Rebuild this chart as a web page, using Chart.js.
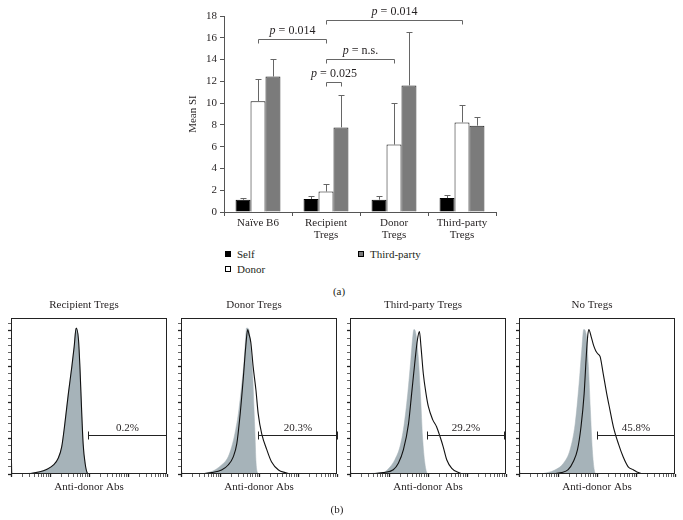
<!DOCTYPE html>
<html>
<head>
<meta charset="utf-8">
<script src="https://cdn.jsdelivr.net/npm/chart.js@4.4.1/dist/chart.umd.min.js"></script>
<style>
  body { margin: 0; background: #fff; }
  #fig { position: relative; width: 683px; height: 520px; font-family: "Liberation Serif", serif; color: #231f20; }
  canvas { position: absolute; }
  .txt { position: absolute; font-size: 11px; line-height: 12px; white-space: nowrap; }
  .mid { transform: translateX(-50%); }
  .sw { position: absolute; width: 4px; height: 4px; border: 1px solid #000; }
</style>
</head>
<body>
<div id="fig">
  <canvas id="bars" width="328" height="246" style="left:182px;top:0"></canvas>
  <div id="legend"></div>
  <div class="txt mid" style="left:339px;top:285px">(a)</div>
  <canvas id="h0" width="176" height="204" style="left:1px;top:290px"></canvas>
  <canvas id="h1" width="176" height="204" style="left:171px;top:290px"></canvas>
  <canvas id="h2" width="176" height="204" style="left:340px;top:290px"></canvas>
  <canvas id="h3" width="176" height="204" style="left:509px;top:290px"></canvas>
  <div class="txt mid" style="left:337px;top:503px">(b)</div>
</div>
<script>
// (a) mean stimulation index
const groups = [['Naïve B6'], ['Recipient', 'Tregs'], ['Donor', 'Tregs'], ['Third-party', 'Tregs']];
const seriesNames = ['Self', 'Donor', 'Third-party'];
const selfSI = [1.12, 1.19, 1.13, 1.28];
const donorSI = [10.18, 1.88, 6.19, 8.23];
const thirdSI = [12.44, 7.77, 11.62, 7.93];
const selfErr = [0.15, 0.24, 0.3, 0.24];
const donorErr = [2.02, 0.68, 3.84, 1.56];
const thirdErr = [1.61, 2.99, 4.9, 0.82];

// significance brackets: [series, group] at each end
const pText = ['0.014', '0.014', 'n.s.', '0.025'];
const pFrom = [[1, 0], [1, 1], [1, 1], [1, 1]];
const pTo = [[1, 1], [1, 3], [1, 2], [2, 1]];
const pLevel = [15.9, 17.6, 14.05, 11.9];

// (b) histograms, x in log decades, y in % of max
const panelTitles = ['Recipient Tregs', 'Donor Tregs', 'Third-party Tregs', 'No Tregs'];
const gatePct = ['0.2%', '20.3%', '29.2%', '45.8%'];
const gateFrom = [1.98, 1.98, 1.98, 1.99];
const gateTo = [3.97, 3.99, 3.96, 3.97];
const gateLevel = [27, 27, 27, 27];

const ctrl1X = [0.3, 0.74, 0.91, 1.09, 1.21, 1.30, 1.38, 1.47, 1.56, 1.62, 1.67, 1.73, 1.77, 1.81, 1.85, 1.90, 1.96, 2.0];
const ctrl1Y = [0, 1.6, 3.2, 6.3, 11, 19, 35, 56, 75, 89, 102, 94, 73, 45, 21, 7.5, 0.5, 0];
const ctrl2X = [0.4, 0.62, 0.87, 1.04, 1.13, 1.21, 1.30, 1.38, 1.47, 1.56, 1.62, 1.66, 1.68, 1.74, 1.79, 1.84, 1.87, 1.90, 1.92, 1.96, 2.0];
const ctrl2Y = [0, 0.5, 2.8, 6.3, 8.6, 12, 19, 28, 42, 63, 80, 96, 102, 101, 87, 68, 47, 26, 10, 1, 0];
const ctrl3X = [0.4, 0.60, 0.85, 1.03, 1.15, 1.28, 1.38, 1.48, 1.56, 1.61, 1.64, 1.69, 1.75, 1.81, 1.86, 1.92, 1.98, 2.02];
const ctrl3Y = [0, 0.5, 1, 5, 10, 19, 33, 56, 80, 96, 101, 98, 82, 54, 26, 7.5, 0.5, 0];
const ctrl4X = [0.58, 0.92, 1.14, 1.31, 1.44, 1.54, 1.61, 1.66, 1.72, 1.78, 1.83, 1.88, 1.93, 1.97];
const ctrl4Y = [0, 2.8, 7.5, 17, 35, 63, 87, 101, 98, 75, 45, 17, 2.8, 0];

const recipX = [0, 0.02, 0.3, 0.74, 0.91, 1.09, 1.21, 1.30, 1.38, 1.47, 1.56, 1.62, 1.67, 1.73, 1.77, 1.81, 1.85, 1.90, 1.96, 2.0, 4];
const recipY = [35, 0, 0, 1.6, 3.2, 6.3, 11, 19, 35, 56, 75, 89, 102, 94, 73, 45, 21, 7.5, 0.5, 0, 0];
const donorX = [0, 0.02, 0.44, 0.79, 1.04, 1.21, 1.34, 1.43, 1.51, 1.60, 1.66, 1.71, 1.74, 1.79, 1.85, 1.92, 1.98, 2.07, 2.20, 2.32, 2.50, 2.67, 2.84, 4];
const donorY = [10, 0, 0, 1, 2.8, 6.3, 12, 21, 40, 68, 89, 101, 98, 92, 75, 59, 42, 28, 17, 8.6, 2.8, 1, 0, 0];
const thirdX = [0, 0.02, 0.43, 0.85, 1.11, 1.24, 1.37, 1.50, 1.58, 1.67, 1.73, 1.78, 1.82, 1.88, 1.95, 2.01, 2.12, 2.22, 2.31, 2.39, 2.48, 2.61, 2.78, 2.91, 4];
const thirdY = [10, 0, 0, 1, 3, 7.5, 17, 35, 56, 80, 94, 99.5, 89, 70, 56, 47, 38, 33, 26, 19, 10, 4, 1, 0, 0];
const noTregX = [0, 0.02, 0.75, 1.09, 1.26, 1.39, 1.50, 1.59, 1.67, 1.72, 1.76, 1.79, 1.85, 1.91, 1.97, 2.02, 2.08, 2.16, 2.25, 2.33, 2.42, 2.55, 2.67, 2.80, 2.93, 3.06, 3.19, 4];
const noTregY = [12, 0, 0, 1, 3, 8.6, 17, 33, 56, 80, 96, 101, 96, 90, 86, 84, 82, 70, 56, 45, 33, 21, 12, 5, 3, 1, 0, 0];

const ctrlX = [ctrl1X, ctrl2X, ctrl3X, ctrl4X];
const ctrlY = [ctrl1Y, ctrl2Y, ctrl3Y, ctrl4Y];
const lineX = [recipX, donorX, thirdX, noTregX];
const lineY = [recipY, donorY, thirdY, noTregY];

const serif = '"Liberation Serif", "Times New Roman", serif';
const ink = '#231f20';
const axisGrey = '#555';
const barColors = ['#000000', '#ffffff', '#7b7b7b'];
const fillGrey = '#a6b3b9';

// legend for (a)
const legendSpots = [[225, 251], [225, 266], [358, 251]];
const legend = document.getElementById('legend');
seriesNames.forEach((name, i) => {
  const [lx, ly] = legendSpots[i];
  const sw = document.createElement('div');
  sw.className = 'sw';
  sw.style.left = lx + 'px';
  sw.style.top = ly + 'px';
  sw.style.background = barColors[i];
  legend.appendChild(sw);
  const t = document.createElement('div');
  t.className = 'txt';
  t.style.left = (lx + 12) + 'px';
  t.style.top = (ly - 3) + 'px';
  t.textContent = name;
  legend.appendChild(t);
});

const errorBars = {
  id: 'errorBars',
  afterDatasetsDraw(chart) {
    const { ctx, scales: { y } } = chart;
    ctx.save();
    ctx.strokeStyle = '#666';
    ctx.lineWidth = 1;
    chart.data.datasets.forEach((ds, i) => {
      chart.getDatasetMeta(i).data.forEach((bar, j) => {
        const top = Math.round(y.getPixelForValue(ds.data[j] + ds.errors[j])) + 0.5;
        const x = Math.round(bar.x) + 0.5;
        ctx.beginPath();
        ctx.moveTo(x, bar.y);
        ctx.lineTo(x, top);
        ctx.moveTo(x - 3, top);
        ctx.lineTo(x + 3, top);
        ctx.stroke();
      });
    });
    ctx.restore();
  }
};

const brackets = {
  id: 'brackets',
  afterDraw(chart) {
    const { ctx, scales: { y } } = chart;
    ctx.save();
    pLevel.forEach((lvl, k) => {
      const a = Math.round(chart.getDatasetMeta(pFrom[k][0]).data[pFrom[k][1]].x) + 0.5;
      const b = Math.round(chart.getDatasetMeta(pTo[k][0]).data[pTo[k][1]].x) + 0.5;
      const yy = Math.round(y.getPixelForValue(lvl)) + 0.5;
      ctx.strokeStyle = '#666';
      ctx.lineWidth = 1;
      ctx.beginPath();
      ctx.moveTo(a, yy + 4);
      ctx.lineTo(a, yy);
      ctx.lineTo(b, yy);
      ctx.lineTo(b, yy + 4);
      ctx.stroke();

      const rest = ' = ' + pText[k];
      ctx.font = 'italic 12px ' + serif;
      const wp = ctx.measureText('p').width;
      ctx.font = '12px ' + serif;
      const wr = ctx.measureText(rest).width;
      let x0 = (a + b) / 2 - (wp + wr) / 2;
      ctx.fillStyle = ink;
      ctx.textBaseline = 'alphabetic';
      ctx.textAlign = 'left';
      ctx.font = 'italic 12px ' + serif;
      ctx.fillText('p', x0, yy - 6);
      ctx.font = '12px ' + serif;
      ctx.fillText(rest, x0 + wp, yy - 6);
    });
    ctx.restore();
  }
};

new Chart(document.getElementById('bars'), {
  type: 'bar',
  data: {
    labels: groups,
    datasets: [
      { label: seriesNames[0], data: selfSI, errors: selfErr, backgroundColor: barColors[0], borderColor: '#000', borderWidth: 1 },
      { label: seriesNames[1], data: donorSI, errors: donorErr, backgroundColor: barColors[1], borderColor: '#111', borderWidth: 1 },
      { label: seriesNames[2], data: thirdSI, errors: thirdErr, backgroundColor: barColors[2], borderColor: '#222', borderWidth: 1 }
    ]
  },
  options: {
    responsive: false,
    animation: false,
    datasets: { bar: { categoryPercentage: 0.66, barPercentage: 1 } },
    layout: { padding: { top: 16, right: 14, left: 0, bottom: 0 } },
    plugins: { legend: { display: false }, tooltip: { enabled: false } },
    scales: {
      x: {
        afterFit: s => { s.height = 34; },
        grid: { drawOnChartArea: false, tickLength: 4, tickColor: axisGrey, offset: true },
        border: { color: axisGrey },
        ticks: { color: ink, font: { family: serif, size: 11, lineHeight: 1.1 }, padding: 1, maxRotation: 0, autoSkip: false }
      },
      y: {
        min: 0,
        max: 18,
        afterFit: s => { s.width = 42; },
        ticks: { stepSize: 2, color: ink, font: { family: serif, size: 11 }, padding: 3 },
        grid: { drawOnChartArea: false, tickLength: 4, tickColor: axisGrey },
        border: { color: axisGrey },
        title: { display: true, text: 'Mean SI', color: ink, font: { family: serif, size: 11 }, padding: { top: 5, bottom: 0 } }
      }
    }
  },
  plugins: [errorBars, brackets]
});

// log-decade tick marks for the flow axes
const decadeTicks = [];
for (let d = 0; d < 4; d++) {
  for (let m = 1; m < 10; m++) decadeTicks.push({ value: d + Math.log10(m), major: m === 1 });
}
decadeTicks.push({ value: 4, major: true });
const countTicks = [];
for (let v = 0; v <= 105; v += 5) countTicks.push({ value: v, major: v % 25 === 0 });

const frame = {
  id: 'frame',
  afterDatasetsDraw(chart) {
    const { ctx, chartArea: a } = chart;
    ctx.save();
    ctx.strokeStyle = '#222';
    ctx.lineWidth = 1;
    ctx.strokeRect(Math.round(a.left) + 0.5, Math.round(a.top) + 0.5, Math.round(a.width) - 1, Math.round(a.height) - 1);
    ctx.restore();
  }
};

function gatePlugin(k) {
  return {
    id: 'gate' + k,
    afterDatasetsDraw(chart) {
      const { ctx, scales: { x, y } } = chart;
      const x1 = Math.round(x.getPixelForValue(gateFrom[k])) + 0.5;
      const x2 = Math.round(x.getPixelForValue(gateTo[k])) + 0.5;
      const yy = Math.round(y.getPixelForValue(gateLevel[k])) + 0.5;
      ctx.save();
      ctx.strokeStyle = '#222';
      ctx.lineWidth = 1;
      ctx.beginPath();
      ctx.moveTo(x1, yy - 4); ctx.lineTo(x1, yy + 4);
      ctx.moveTo(x1, yy); ctx.lineTo(x2, yy);
      ctx.moveTo(x2, yy - 4); ctx.lineTo(x2, yy + 4);
      ctx.stroke();
      ctx.fillStyle = ink;
      ctx.font = '11px ' + serif;
      ctx.textAlign = 'center';
      ctx.textBaseline = 'alphabetic';
      ctx.fillText(gatePct[k], (x1 + x2) / 2, yy - 5);
      ctx.restore();
    }
  };
}

const pts = (xs, ys) => xs.map((v, i) => ({ x: v, y: ys[i] }));

panelTitles.forEach((title, k) => {
  new Chart(document.getElementById('h' + k), {
    type: 'line',
    data: {
      datasets: [
        { label: 'Tregs', data: pts(lineX[k], lineY[k]), borderColor: '#111', borderWidth: 1.1, fill: false, order: 0 },
        { label: 'Control', data: pts(ctrlX[k], ctrlY[k]), borderColor: fillGrey, backgroundColor: fillGrey, borderWidth: 0.5, fill: 'origin', order: 1 }
      ]
    },
    options: {
      responsive: false,
      animation: false,
      layout: { padding: { left: 0, right: 10, top: 0, bottom: 0 } },
      elements: { point: { radius: 0 }, line: { cubicInterpolationMode: 'monotone' } },
      plugins: {
        legend: { display: false },
        tooltip: { enabled: false },
        title: { display: true, text: title, color: ink, font: { family: serif, size: 11, weight: 'normal', lineHeight: '13px' }, padding: { top: 9, bottom: 6 } }
      },
      scales: {
        x: {
          type: 'linear',
          min: 0,
          max: 4,
          afterBuildTicks: s => { s.ticks = decadeTicks.map(t => ({ ...t })); },
          afterFit: s => { s.height = 20; },
          ticks: { callback: () => '', autoSkip: false, padding: 0 },
          grid: { drawOnChartArea: false, tickLength: 3, tickColor: '#222', tickWidth: c => (c.tick && c.tick.major ? 1.3 : 0.7) },
          border: { display: false },
          title: { display: true, text: 'Anti-donor Abs', color: ink, font: { family: serif, size: 11 }, padding: 0 }
        },
        y: {
          min: 0,
          max: 109,
          afterBuildTicks: s => { s.ticks = countTicks.map(t => ({ ...t })); },
          afterFit: s => { s.width = 10; },
          ticks: { callback: () => '', autoSkip: false, padding: 0 },
          grid: { drawOnChartArea: false, tickLength: 3, tickColor: '#222', tickWidth: c => (c.tick && c.tick.major ? 1.3 : 0.7) },
          border: { display: false }
        }
      }
    },
    plugins: [frame, gatePlugin(k)]
  });
});
</script>
</body>
</html>
